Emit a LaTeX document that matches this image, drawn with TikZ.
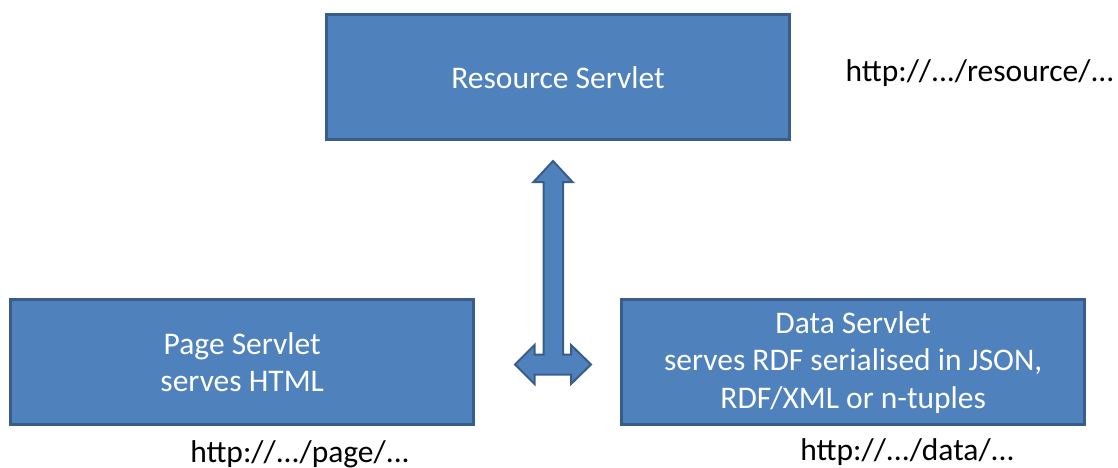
\documentclass[tikz,border=0pt]{standalone}
\usepackage{fontspec}
\setmainfont{Carlito}
\definecolor{boxfill}{HTML}{4F81BD}
\definecolor{boxline}{HTML}{385D8A}
\begin{document}
\begin{tikzpicture}[x=1pt,y=-1pt,
  servlet/.style={draw=boxline, fill=boxfill, line width=3pt, text=white,
    minimum width=463pt, minimum height=125pt, align=center, inner sep=0pt,
    font=\fontsize{31.5}{37.5}\selectfont},
  url/.style={text=black, inner sep=0pt, anchor=base, font=\fontsize{31.5}{37}\selectfont}]
\useasboundingbox (0,0) rectangle (1118,468);
\node[servlet] (res) at (558,77.3) {Resource Servlet};
\node[servlet] (page) at (242.2,362.2) {Page Servlet\\serves HTML};
\node[servlet] (data) at (853.2,362.2) {Data Servlet\\serves RDF serialised in JSON,\\RDF/XML or n-tuples};
\node[url] (resurl) at (980,82) {http://.../resource/...};
\node[url] (pageurl) at (300,462) {http://.../page/...};
\node[url] (dataurl) at (907.5,460) {http://.../data/...};
\draw[draw=boxline, fill=boxfill, line width=2pt, line join=miter]
  (553,161) -- (572.5,182) -- (563,182) -- (563,354.5) -- (571,354.5) -- (571,345)
  -- (591,364.5) -- (571,384) -- (571,374.5) -- (534.5,374.5) -- (534.5,384)
  -- (515,364.5) -- (534.5,345) -- (534.5,354.5) -- (543.5,354.5) -- (543.5,182)
  -- (533.5,182) -- cycle;
\end{tikzpicture}
\end{document}
